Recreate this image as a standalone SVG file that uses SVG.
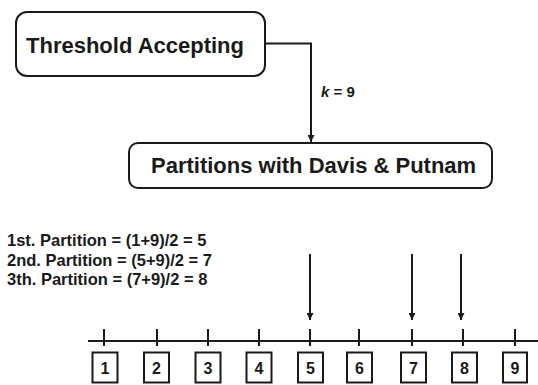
<svg xmlns="http://www.w3.org/2000/svg" width="538" height="385" viewBox="0 0 538 385">
<style>
.node{fill:#fff;stroke:#1a1a1a;stroke-width:2}
.t{font-family:"Liberation Sans",Arial,sans-serif;font-weight:bold;fill:#1a1a1a}
.big{font-size:22px}
.mid{font-size:16.5px}
.num{font-size:16px;text-anchor:middle}
.ln{stroke:#1a1a1a;stroke-width:2;fill:none}
</style>
<defs>
<marker id="ah" viewBox="0 0 10 10" refX="10" refY="5" markerWidth="7" markerHeight="7" markerUnits="userSpaceOnUse" orient="auto">
<path d="M0,0 L10,5 L0,10 z" fill="#1a1a1a"/>
</marker>
</defs>
<rect width="538" height="385" fill="#fff"/>
<g id="threshold">
<rect class="node" x="16" y="12" width="249" height="64" rx="11"/>
<text class="t big" x="26" y="53">Threshold Accepting</text>
</g>
<g id="partitions">
<rect class="node" x="129" y="143" width="363" height="45" rx="9"/>
<text class="t big" x="151" y="173">Partitions with Davis &amp; Putnam</text>
</g>
<g id="connectors">
<path class="ln" d="M265,43.5 H311 V142" marker-end="url(#ah)"/>
<text class="t" font-size="15" x="321" y="97"><tspan font-style="italic">k</tspan> = 9</text>
<path class="ln" d="M310,254 V320" marker-end="url(#ah)"/>
<path class="ln" d="M412,254 V320" marker-end="url(#ah)"/>
<path class="ln" d="M461,254 V320" marker-end="url(#ah)"/>
</g>
<g id="formulas">
<text class="t mid" x="7" y="246">1st. Partition = (1+9)/2 = 5</text>
<text class="t mid" x="7" y="265.5">2nd. Partition = (5+9)/2 = 7</text>
<text class="t mid" x="7" y="285">3th. Partition = (7+9)/2 = 8</text>
</g>
<g id="numberline">
<path class="ln" d="M88,341 H538"/>
<path class="ln" d="M104,329 V346 M157,329 V346 M208,329 V346 M259,329 V346 M310,329 V346 M359,329 V346 M412,329 V346 M463,329 V346 M515,329 V346"/>
</g>
<g id="cell1"><rect class="node" x="92.5" y="352.5" width="25" height="30"/><text class="t num" x="105" y="374">1</text></g>
<g id="cell2"><rect class="node" x="144" y="352.5" width="25" height="30"/><text class="t num" x="156.5" y="374">2</text></g>
<g id="cell3"><rect class="node" x="195.5" y="352.5" width="25" height="30"/><text class="t num" x="208" y="374">3</text></g>
<g id="cell4"><rect class="node" x="246.5" y="352.5" width="25" height="30"/><text class="t num" x="259" y="374">4</text></g>
<g id="cell5"><rect class="node" x="298" y="352.5" width="25" height="30"/><text class="t num" x="310.5" y="374">5</text></g>
<g id="cell6"><rect class="node" x="347" y="352.5" width="25" height="30"/><text class="t num" x="359.5" y="374">6</text></g>
<g id="cell7"><rect class="node" x="401" y="352.5" width="25" height="30"/><text class="t num" x="413.5" y="374">7</text></g>
<g id="cell8"><rect class="node" x="452" y="352.5" width="25" height="30"/><text class="t num" x="464.5" y="374">8</text></g>
<g id="cell9"><rect class="node" x="503" y="352.5" width="24" height="30"/><text class="t num" x="515" y="374">9</text></g>
</svg>
